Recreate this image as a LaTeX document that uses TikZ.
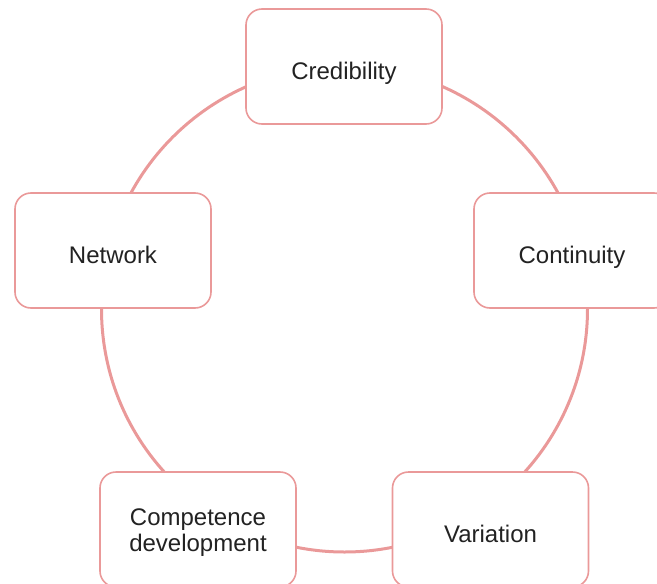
\documentclass[tikz,border=0pt]{standalone}
\usepackage{fontspec}
\setmainfont{Liberation Sans}
\definecolor{ringred}{HTML}{EA9999}
\definecolor{txt}{HTML}{222222}
\begin{document}
\begin{tikzpicture}[x=1pt,y=-1pt,
  box/.style={draw=ringred, line width=1.6pt, fill=white, rounded corners=16pt,
    minimum width=196pt, minimum height=115pt, inner sep=0pt, align=center,
    text=txt, font=\fontsize{24}{25.5}\selectfont},
  oneline/.style={box, text height=25pt, text depth=0pt},
  ring/.style={draw=ringred, line width=3pt}]
\useasboundingbox (0,0) rectangle (657,584);
\clip (0,0) rectangle (657,584);
\coordinate (c) at (344.5,309);
\draw[ring] (c) circle[radius=243];
\node[oneline] (cred) at (344,66.5) {Credibility};
\node[oneline] (net) at (113,250.5) {Network};
\node[oneline] (cont) at (572,250.5) {Continuity};
\node[box] (comp) at (198,529.5) {\raisebox{-3.75pt}[\height][\depth]{\begin{tabular}{@{}c@{}}Competence\\development\end{tabular}}};
\node[oneline] (var) at (490.5,529.5) {Variation};
\end{tikzpicture}
\end{document}
